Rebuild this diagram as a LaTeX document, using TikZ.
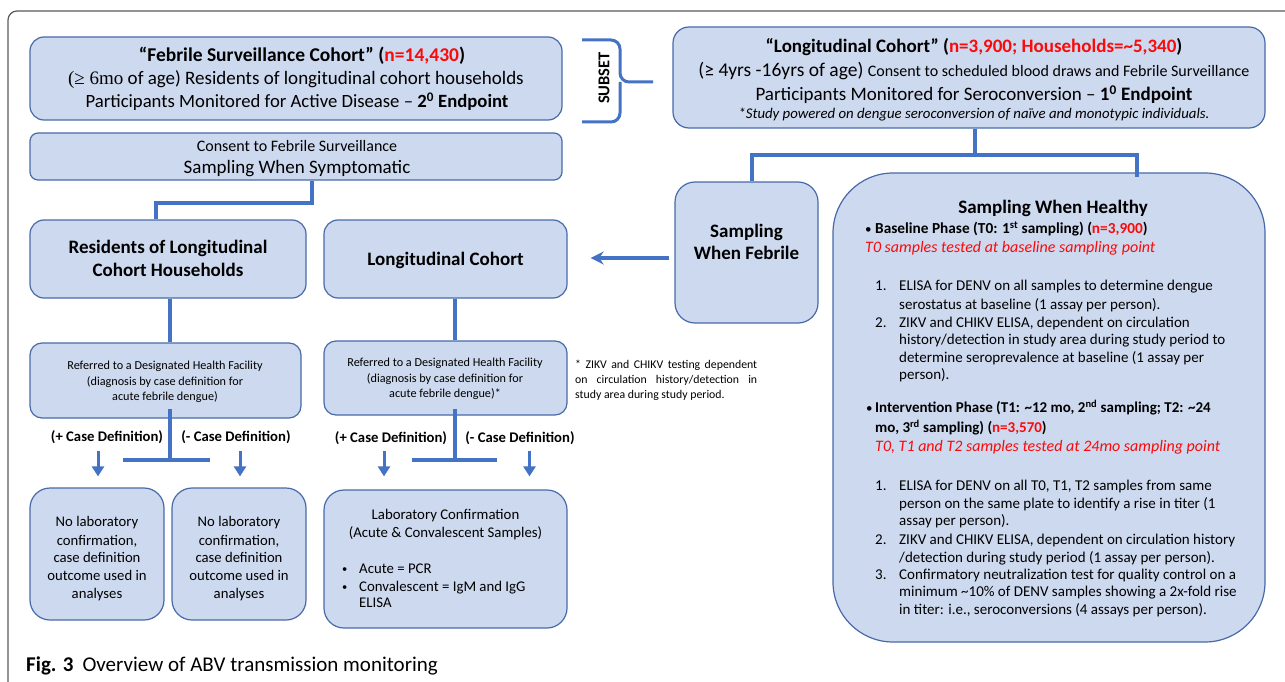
\documentclass[tikz,border=0pt]{standalone}
\usepackage{fontspec}
\setmainfont{Carlito}
\newfontfamily\serf{Liberation Serif}
\usetikzlibrary{arrows.meta}
\definecolor{bfill}{RGB}{205,217,238}
\definecolor{bdraw}{RGB}{72,106,170}
\definecolor{lblue}{RGB}{68,114,196}
\definecolor{nred}{RGB}{250,10,10}
\definecolor{framec}{RGB}{90,90,90}
\newcommand\fsz[1]{\fontsize{#1}{#1}\selectfont}
\begin{document}
\begin{tikzpicture}[x=1pt,y=-1pt,
  box/.style={draw=bdraw, fill=bfill, line width=1.2pt, inner sep=0pt},
  tl/.style={inner sep=0pt, anchor=base},
  tlw/.style={inner sep=0pt, anchor=base west},
  conn/.style={draw=lblue, line width=4pt},
  larr/.style={draw=lblue, line width=4pt, -{Stealth[length=13pt,width=13pt]}},
  darr/.style={draw=lblue, line width=3pt, -{Triangle[length=10pt,width=12pt]}}]
\useasboundingbox (0,0) rectangle (1285,682);
\fill[white] (0,0) rectangle (1285,682);
% frame
\draw[framec, line width=1.2pt, rounded corners=9pt] (8,682) -- (8,11) -- (1285,11);

% boxes
\node[box, rounded corners=14pt, minimum width=532pt, minimum height=83pt] (fsc) at (296,78.5) {};
\node[box, rounded corners=8pt, minimum width=532pt, minimum height=47pt] (consent) at (296,156.5) {};
\node[box, rounded corners=16pt, minimum width=592pt, minimum height=101pt] (lc) at (969,77.5) {};
\node[box, rounded corners=20pt, minimum width=143pt, minimum height=141pt] (febrile) at (746.5,252.5) {};
\node[box, rounded corners=60pt, minimum width=432pt, minimum height=469pt] (healthy) at (1049,407.5) {};
\node[box, rounded corners=14pt, minimum width=276pt, minimum height=78pt] (resid) at (168,259) {};
\node[box, rounded corners=14pt, minimum width=243pt, minimum height=78pt] (lcg) at (445.5,259) {};
\node[box, rounded corners=12pt, minimum width=271pt, minimum height=75pt] (ref1) at (165.5,380.5) {};
\node[box, rounded corners=12pt, minimum width=243pt, minimum height=74pt] (ref2) at (445.5,378) {};
\node[box, rounded corners=20pt, minimum width=134pt, minimum height=132pt] (no1) at (97,554) {};
\node[box, rounded corners=20pt, minimum width=134pt, minimum height=132pt] (no2) at (239,554) {};
\node[box, rounded corners=20pt, minimum width=243pt, minimum height=138pt] (lab) at (445.5,559) {};

% brace
\draw[conn, line width=3pt, rounded corners=9pt] (582,40) -- (620,40) -- (620,82) -- (653,82);
\draw[conn, line width=3pt, rounded corners=9pt] (582,122) -- (620,122) -- (620,82);
\node[inner sep=0pt, rotate=90, font=\bfseries\fsz{16.5}] (subset) at (604,78) {SUBSET};

% connectors
\draw[conn] ([xshift=16pt]consent.south) -- ++(0,22) -| ([xshift=-12pt]resid.north);
\coordinate (s1) at (975,155);
\draw[conn] (lc.south -| s1) -- (s1);
\draw[conn] ([xshift=5.5pt]febrile.north) |- ([xshift=88pt]healthy.north |- s1) -- ([xshift=88pt,yshift=-5pt]healthy.north);
\draw[larr] ([xshift=-5pt,yshift=-5.5pt]febrile.west) coordinate (af) -- ([xshift=23pt]lcg.east |- af);
\draw[conn] ([xshift=2pt]resid.south) -- ([xshift=2pt]resid.south |- ref1.north);
\draw[conn] ([xshift=9pt]lcg.south) -- ([xshift=9pt]lcg.south |- ref2.north);
% left split
\draw[conn] ([xshift=4.5pt,yshift=10pt]ref1.south) -- ++(0,52) coordinate (t1);
\coordinate (h1l) at (123,460); \coordinate (h1r) at (210,460);
\draw[conn] (h1l) -- (h1r);
\draw[darr] ([xshift=1pt,yshift=36pt]no1.north) -- ([xshift=1pt,yshift=11pt]no1.north);
\draw[darr] ([xshift=1pt,yshift=36pt]no2.north) -- ([xshift=1pt,yshift=11pt]no2.north);
% right split
\draw[conn] ([xshift=9pt,yshift=7pt]ref2.south) -- ++(0,52) coordinate (t2);
\coordinate (h2l) at (412,460); \coordinate (h2r) at (497,460);
\draw[conn] (h2l) -- (h2r);
\draw[darr] ([xshift=-61.5pt,yshift=38pt]lab.north) -- ([xshift=-61.5pt,yshift=13pt]lab.north);
\draw[darr] ([xshift=84pt,yshift=38pt]lab.north) -- ([xshift=84pt,yshift=13pt]lab.north);

% texts box A
\node[tl, font=\bfseries\fsz{19.5}] (a1) at (302,62) {“Febrile Surveillance Cohort” ({\color{nred}n=14,430})};
\node[tl, font=\fsz{19}] (a2) at (296,85) {{\serf(≥ 6mo} of age) Residents of longitudinal cohort households};
\node[tl, font=\fsz{18.7}] (a3) at (297,108) {Participants Monitored for Active Disease – {\bfseries 2\textsuperscript{0} Endpoint}};
% box B
\node[tl, font=\fsz{16}] (b1) at (297,151) {Consent to Febrile Surveillance};
\node[tl, font=\fsz{19}] (b2) at (297,173) {Sampling When Symptomatic};
% box C
\node[tl, font=\bfseries\fsz{19}] (c1) at (974,53) {“Longitudinal Cohort” ({\color{nred}n=3,900; Households=\textasciitilde5,340})};
\node[tl, font=\fsz{19.5}] (c2) at (974,77) {(≥ 4yrs -16yrs of age) {\fsz{16}Consent to scheduled blood draws and Febrile Surveillance}};
\node[tl, font=\fsz{19}] (c3) at (974,100.5) {Participants Monitored for Seroconversion – {\bfseries 1\textsuperscript{0} Endpoint}};
\node[tl, font=\itshape\fsz{14.8}] (c4) at (974,119) {*Study powered on dengue seroconversion of naïve and monotypic individuals.};
% box D
\node[tl, font=\bfseries\fsz{19}] (d1) at (746.5,237.5) {Sampling};
\node[tl, font=\bfseries\fsz{19}] (d2) at (746.5,259.5) {When Febrile};
% box F, G
\node[tl, font=\bfseries\fsz{19}] (f1) at (168,253.5) {Residents of Longitudinal};
\node[tl, font=\bfseries\fsz{19}] (f2) at (168,276.5) {Cohort Households};
\node[tl, font=\bfseries\fsz{19}] (g1) at (445.5,265.5) {Longitudinal Cohort};
% box H, I
\node[tl, font=\fsz{12.2}] (h1) at (165,369.5) {Referred to a Designated Health Facility};
\node[tl, font=\fsz{12.2}] (h2) at (165,385.5) {(diagnosis by case definition for};
\node[tl, font=\fsz{12.2}] (h3) at (165,400.5) {acute febrile dengue)};
\node[tl, font=\fsz{12.2}] (i1) at (445,366.5) {Referred to a Designated Health Facility};
\node[tl, font=\fsz{12.2}] (i2) at (445,382.5) {(diagnosis by case definition for};
\node[tl, font=\fsz{12.2}] (i3) at (445,397.5) {acute febrile dengue)*};
% footnote
\node[tlw, font=\fsz{11.8}] (fn1) at (575,368.5) {\makebox[182pt][s]{* ZIKV and CHIKV testing dependent}};
\node[tlw, font=\fsz{11.8}] (fn2) at (575,383.5) {\makebox[182pt][s]{on circulation history/detection in}};
\node[tlw, font=\fsz{11.8}] (fn3) at (575,398.5) {study area during study period.};
% case labels
\node[tl, font=\bfseries\fsz{14.7}] (cl1) at (107,441.5) {(+ Case Definition)};
\node[tl, font=\bfseries\fsz{14.7}] (cl2) at (236,441.5) {(- Case Definition)};
\node[tl, font=\bfseries\fsz{14.7}] (cl3) at (391,442.5) {(+ Case Definition)};
\node[tl, font=\bfseries\fsz{14.7}] (cl4) at (520,442.5) {(- Case Definition)};
% boxes J, K
\node[tl, font=\fsz{14.7}] (j1) at (97,526) {No laboratory};
\node[tl, font=\fsz{14.7}] (j2) at (97,545) {confirmation,};
\node[tl, font=\fsz{14.7}] (j3) at (97,562.5) {case definition};
\node[tl, font=\fsz{14.7}] (j4) at (97,580.5) {outcome used in};
\node[tl, font=\fsz{14.7}] (j5) at (97,598.5) {analyses};
\node[tl, font=\fsz{14.7}] (k1) at (239,526) {No laboratory};
\node[tl, font=\fsz{14.7}] (k2) at (239,545) {confirmation,};
\node[tl, font=\fsz{14.7}] (k3) at (239,562.5) {case definition};
\node[tl, font=\fsz{14.7}] (k4) at (239,580.5) {outcome used in};
\node[tl, font=\fsz{14.7}] (k5) at (239,598.5) {analyses};
% box L
\node[tl, font=\fsz{14.8}] (l1) at (445.5,519.5) {Laboratory Confirmation};
\node[tl, font=\fsz{14.8}] (l2) at (445.5,537.5) {(Acute \& Convalescent Samples)};
\node[tlw, font=\fsz{10.5}] (lb1) at (342,572.5) {•};
\node[tlw, font=\fsz{10.5}] (lb2) at (342,590.5) {•};
\node[tlw, font=\fsz{14.8}] (l3) at (359,573.5) {Acute = PCR};
\node[tlw, font=\fsz{14.8}] (l4) at (359,591.5) {Convalescent = IgM and IgG};
\node[tlw, font=\fsz{14.8}] (l5) at (359,607.5) {ELISA};
% box E
\node[tl, font=\bfseries\fsz{19}] (e0) at (1053,213.5) {Sampling When Healthy};
\node[tlw, font=\fsz{13}] (eb1) at (865,233) {•};
\node[tlw, font=\bfseries\fsz{15.3}] (e1) at (875,233.5) {Baseline Phase (T0: 1\textsuperscript{st} sampling) ({\color{nred}n=3,900})};
\node[tlw, font=\itshape\fsz{16}, text=nred] (e2) at (865,252.5) {T0 samples tested at baseline sampling point};
\node[tlw, font=\fsz{15}] (en1) at (875,290.5) {1.};
\node[tlw, font=\fsz{15}] (e3) at (899,290.5) {ELISA for DENV on all samples to determine dengue};
\node[tlw, font=\fsz{15}] (e4) at (899,309) {serostatus at baseline (1 assay per person).};
\node[tlw, font=\fsz{15}] (en2) at (875,327) {2.};
\node[tlw, font=\fsz{15}] (e5) at (899,327) {ZIKV and CHIKV ELISA, dependent on circulation};
\node[tlw, font=\fsz{15}] (e6) at (899,344.5) {history/detection in study area during study period to};
\node[tlw, font=\fsz{15}] (e7) at (899,362) {determine seroprevalence at baseline (1 assay per};
\node[tlw, font=\fsz{15}] (e8) at (899,379) {person).};
\node[tlw, font=\fsz{13}] (eb2) at (866,412) {•};
\node[tlw, font=\bfseries\fsz{15}] (e9) at (875,412.5) {Intervention Phase (T1: \textasciitilde12 mo, 2\textsuperscript{nd} sampling; T2: \textasciitilde24};
\node[tlw, font=\bfseries\fsz{15}] (e10) at (875,432.5) {mo, 3\textsuperscript{rd} sampling) ({\color{nred}n=3,570})};
\node[tlw, font=\itshape\fsz{16}, text=nred] (e11) at (875,451.5) {T0, T1 and T2 samples tested at 24mo sampling point};
\node[tlw, font=\fsz{15}] (en3) at (875,490.5) {1.};
\node[tlw, font=\fsz{15}] (e12) at (899,490.5) {ELISA for DENV on all T0, T1, T2 samples from same};
\node[tlw, font=\fsz{15}] (e13) at (899,508) {person on the same plate to identify a rise in titer (1};
\node[tlw, font=\fsz{15}] (e14) at (899,525.5) {assay per person).};
\node[tlw, font=\fsz{15}] (en4) at (875,544) {2.};
\node[tlw, font=\fsz{15}] (e15) at (899,544) {ZIKV and CHIKV ELISA, dependent on circulation history};
\node[tlw, font=\fsz{15}] (e16) at (899,562) {/detection during study period (1 assay per person).};
\node[tlw, font=\fsz{15}] (en5) at (875,579.5) {3.};
\node[tlw, font=\fsz{15}] (e17) at (899,579.5) {Confirmatory neutralization test for quality control on a};
\node[tlw, font=\fsz{15}] (e18) at (899,596.5) {minimum \textasciitilde10\% of DENV samples showing a 2x-fold rise};
\node[tlw, font=\fsz{15}] (e19) at (899,614.5) {in titer: i.e., seroconversions (4 assays per person).};
% caption
\node[tlw, font=\fsz{21}] (cap) at (26,671.5) {{\bfseries Fig. 3}\hspace{9pt}Overview of ABV transmission monitoring};
\end{tikzpicture}
\end{document}
